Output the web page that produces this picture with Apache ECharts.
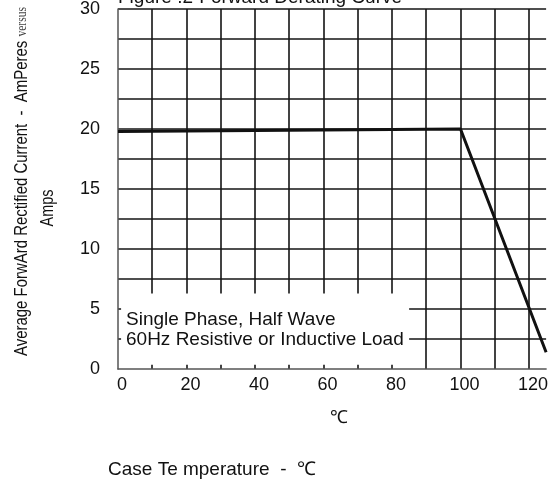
<!DOCTYPE html>
<html>
<head>
<meta charset="utf-8">
<script src="https://cdn.jsdelivr.net/npm/echarts@6/dist/echarts.min.js"></script>
<style>
html,body{margin:0;padding:0;background:#fff;overflow:hidden;}
#chart{width:551px;height:484px;}
</style>
</head>
<body>
<div id="chart"></div>
<script>
// Data
const curveX = [0, 100, 125];
const curveY = [19.8, 20, 1.4];
const xTicks = [0, 20, 40, 60, 80, 100, 120];
const yTicks = [0, 5, 10, 15, 20, 25, 30];
const titleText = 'Figure .2-Forward Derating Curve';
const yTitleMain = 'Average ForwArd Rectified Current  -  AmPeres ';
const yTitleTail = 'versus';
const yUnit = 'Amps';
const xUnit = '\u2103';
const xTitle = 'Case Te mperature  -  \u2103';
const noteLines = ['Single Phase, Half Wave', '60Hz Resistive or Inductive Load'];
const noteBox = [[0.9, 6.3], [85, 0.35]];

const chart = echarts.init(document.getElementById('chart'));
const gridColor = '#141414';
chart.setOption({
  animation: false,
  backgroundColor: '#fff',
  grid: {left: 118, top: 9, right: 3, bottom: 115, containLabel: false},
  xAxis: {
    type: 'value', min: 0, max: 125, interval: 10,
    axisLine: {show: true, lineStyle: {color: '#555', width: 1.5}},
    axisTick: {show: false},
    splitLine: {show: true, showMinLine: false, showMaxLine: false, lineStyle: {color: gridColor, width: 1.6}},
    axisLabel: {
      fontFamily: 'Liberation Sans, Arial, sans-serif', fontSize: 18, color: '#111',
      margin: 7, padding: [0, 0, 0, 8],
      showMaxLabel: false,
      formatter: v => xTicks.includes(v) ? String(v) : ''
    }
  },
  yAxis: {
    type: 'value', min: 0, max: 30, interval: 2.5,
    axisLine: {show: true, lineStyle: {color: '#555', width: 1.5}},
    axisTick: {show: false},
    splitLine: {show: true, showMinLine: false, lineStyle: {color: gridColor, width: 1.6}},
    axisLabel: {
      fontFamily: 'Liberation Sans, Arial, sans-serif', fontSize: 18, color: '#111',
      margin: 18,
      formatter: v => yTicks.includes(v) ? String(v) : ''
    }
  },
  series: [{
    type: 'line',
    data: curveX.map((x, i) => [x, curveY[i]]),
    symbol: 'none',
    lineStyle: {color: '#111', width: 3},
    z: 5,
    markArea: {
      silent: true,
      itemStyle: {color: '#fff', opacity: 1},
      label: {show: false},
      data: [[{coord: noteBox[0]}, {coord: noteBox[1]}]]
    }
  }],
  graphic: [
    {type: 'text', x: 118, y: 7, z: 10,
     style: {text: titleText, font: '19px "Liberation Sans", Arial, sans-serif', fill: '#111', verticalAlign: 'bottom'}},
    {type: 'text', x: 126, y: 320, z: 10,
     style: {text: noteLines[0], font: '19px "Liberation Sans", Arial, sans-serif', fill: '#111', verticalAlign: 'middle'}},
    {type: 'text', x: 126, y: 340, z: 10,
     style: {text: noteLines[1], font: '19px "Liberation Sans", Arial, sans-serif', fill: '#111', verticalAlign: 'middle'}},
    {type: 'text', x: 22, y: 356, rotation: Math.PI / 2, scaleX: 0.83, z: 10,
     style: {
       text: '{a|' + yTitleMain + '}{b|' + yTitleTail + '}',
       verticalAlign: 'middle', align: 'left',
       rich: {
         a: {font: '18px "Liberation Sans", Arial, sans-serif', fill: '#111'},
         b: {font: '14px "Liberation Serif", "Times New Roman", serif', fill: '#444'}
       }
     }},
    {type: 'text', x: 48, y: 208, rotation: Math.PI / 2, scaleX: 0.8, z: 10,
     style: {text: yUnit, font: '18px "Liberation Sans", Arial, sans-serif', fill: '#111', align: 'center', verticalAlign: 'middle'}},
    {type: 'text', x: 339, y: 418, z: 10,
     style: {text: xUnit, font: '18px "Liberation Serif", serif', fill: '#111', align: 'center', verticalAlign: 'middle'}},
    {type: 'text', x: 108, y: 470, z: 10,
     style: {text: xTitle, font: '19px "Liberation Sans", Arial, sans-serif', fill: '#111', align: 'left', verticalAlign: 'middle'}}
  ]
});
</script>
</body>
</html>
